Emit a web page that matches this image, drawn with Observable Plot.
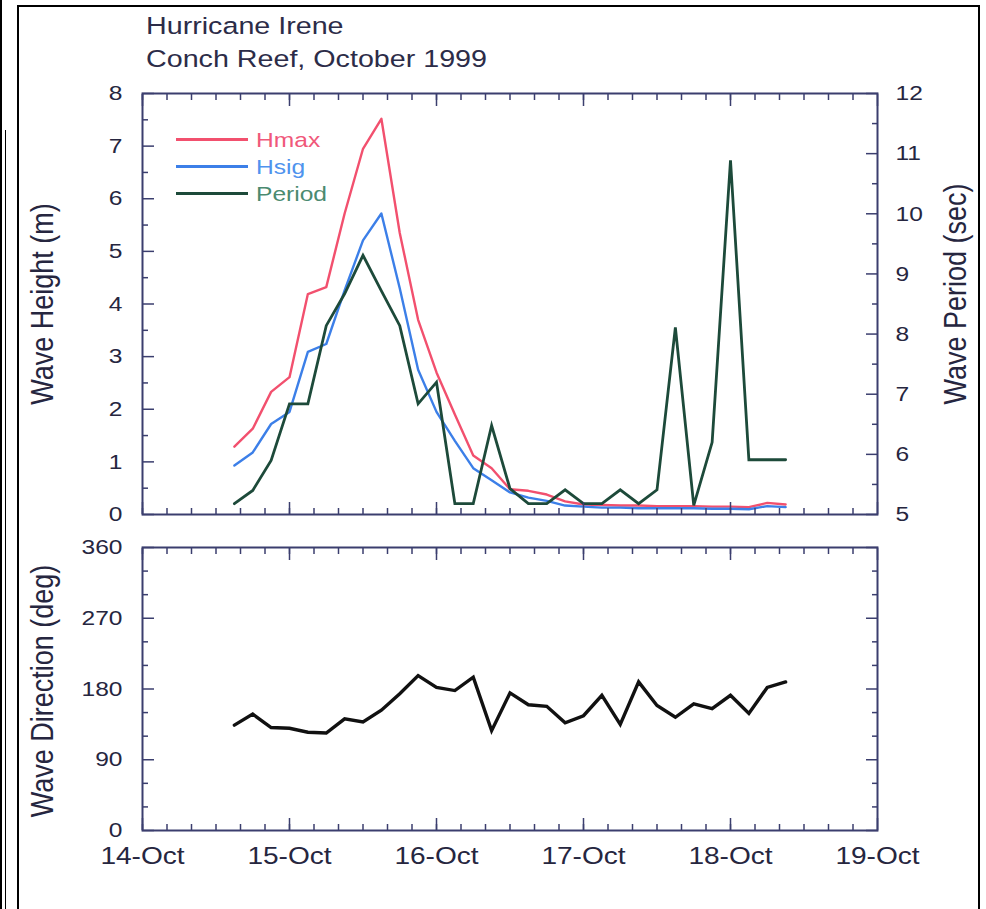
<!DOCTYPE html>
<html><head><meta charset="utf-8">
<script src="https://cdn.jsdelivr.net/npm/d3@7"></script>
<script src="https://cdn.jsdelivr.net/npm/@observablehq/plot@0.6"></script>
<style>
body{margin:0;background:#fff}
#page{position:relative;width:986px;height:909px;overflow:hidden;background:#fff;font-family:"Liberation Sans",Arial,sans-serif}
.abs{position:absolute}
.st{transform-origin:0 50%;transform:scaleX(1.17);white-space:nowrap;line-height:1}
.plot{position:absolute;left:0;overflow:visible}
</style></head>
<body><div id="page">
<div class="abs" style="left:0;top:0;width:2px;height:909px;background:#000"></div>
<div class="abs" style="left:4.5px;top:130px;width:1.5px;height:779px;background:#000"></div>
<div class="abs" style="left:16.5px;top:4.5px;width:959.5px;height:920px;border:2.5px solid #000;border-bottom:none"></div>
<div class="abs st" style="left:146px;top:14.3px;font-size:24.5px;color:#2c2c48">Hurricane Irene</div>
<div class="abs st" style="left:146px;top:47.3px;font-size:24.5px;color:#2c2c48">Conch Reef, October 1999</div>
<div id="topPanel" class="plot" style="top:80px"></div>
<div id="botPanel" class="plot" style="top:530px"></div>
<div id="legend"></div>
</div>
<script>
// ---- data (3-hourly, UTC) ----
const times = ["1999-10-14T15:00","1999-10-14T18:00","1999-10-14T21:00","1999-10-15T00:00","1999-10-15T03:00","1999-10-15T06:00","1999-10-15T09:00","1999-10-15T12:00","1999-10-15T15:00","1999-10-15T18:00","1999-10-15T21:00","1999-10-16T00:00","1999-10-16T03:00","1999-10-16T06:00","1999-10-16T09:00","1999-10-16T12:00","1999-10-16T15:00","1999-10-16T18:00","1999-10-16T21:00","1999-10-17T00:00","1999-10-17T03:00","1999-10-17T06:00","1999-10-17T09:00","1999-10-17T12:00","1999-10-17T15:00","1999-10-17T18:00","1999-10-17T21:00","1999-10-18T00:00","1999-10-18T03:00","1999-10-18T06:00","1999-10-18T09:00"];
const hmax = [1.29,1.63,2.33,2.61,4.19,4.32,5.72,6.95,7.52,5.35,3.70,2.70,1.90,1.12,0.88,0.48,0.45,0.38,0.25,0.19,0.18,0.17,0.17,0.16,0.16,0.16,0.15,0.15,0.14,0.22,0.19];
const hsig = [0.93,1.18,1.72,1.95,3.09,3.24,4.26,5.21,5.72,4.30,2.75,1.95,1.40,0.88,0.65,0.42,0.32,0.26,0.17,0.15,0.13,0.13,0.12,0.12,0.12,0.12,0.11,0.11,0.10,0.16,0.14];
const period = [5.18,5.40,5.90,6.84,6.84,8.14,8.67,9.31,8.72,8.14,6.84,7.20,5.18,5.18,6.48,5.43,5.18,5.18,5.41,5.18,5.18,5.41,5.18,5.41,8.11,5.15,6.20,10.89,5.91,5.91,5.91];
const direction = [134,148,131,130,125,124,142,138,153,174,197,182,178,195,127,175,160,158,137,146,172,135,189,159,144,161,155,172,149,182,189];

const heightTicks = [0,1,2,3,4,5,6,7,8];
const heightMinor = [0.5,1.5,2.5,3.5,4.5,5.5,6.5,7.5];
const periodTicks = [5,6,7,8,9,10,11,12];
const periodMinor = [5.5,6.5,7.5,8.5,9.5,10.5,11.5];
const dirTicks = [0,90,180,270,360];
const dirMinor = [30,60,120,150,210,240,300,330];
const dateTicks = ["1999-10-14","1999-10-15","1999-10-16","1999-10-17","1999-10-18","1999-10-19"];
const dateLabels = ["14-Oct","15-Oct","16-Oct","17-Oct","18-Oct","19-Oct"];
const legendItems = ["Hmax","Hsig","Period"];

// ---- styles ----
const C = {hmax:"#f2506e", hsig:"#3c7fe8", period:"#1d4a3a"};
const CT = {Hmax:"#f0587a", Hsig:"#4f93ee", Period:"#4b8a70"};
const AX = "#3b3e6e", TX = "#26263f";
const K = 1.17; // horizontal glyph stretch

const rows = times.map((s,i) => ({t:new Date(s+":00Z"), hmax:hmax[i], hsig:hsig[i], period:period[i], dir:direction[i]}));
const days = dateTicks.map(s => new Date(s+"T00:00:00Z"));
const xDomain = [days[0], days[days.length-1]];
const minor = d3.utcHour.every(4).range(xDomain[0], xDomain[1]);
const toH = p => (p - 5) * 8 / 7;
const fmtDay = d => dateLabels[days.findIndex(v => +v === +d)];
const none = () => "";

function xTicks() {
  return [
    Plot.axisX({anchor:"top", ticks:minor, tickSize:-6, tickFormat:none, color:AX, strokeWidth:1.5, label:null}),
    Plot.axisX({anchor:"top", ticks:days, tickSize:-12, tickFormat:none, color:AX, strokeWidth:1.5, label:null}),
    Plot.axisX({anchor:"bottom", ticks:minor, tickSize:-6, tickFormat:none, color:AX, strokeWidth:1.5, label:null}),
    Plot.axisX({anchor:"bottom", ticks:days, tickSize:-12, tickFormat:none, color:AX, strokeWidth:1.5, label:null})
  ];
}
function yTicks(major, minorV) {
  return [
    Plot.axisY({anchor:"left", ticks:minorV, tickSize:-6, tickFormat:none, color:AX, strokeWidth:1.5, label:null}),
    Plot.axisY({anchor:"left", ticks:major, tickSize:-12, tickFormat:none, color:AX, strokeWidth:1.5, label:null}),
    Plot.axisY({anchor:"right", ticks:minorV, tickSize:-6, tickFormat:none, color:AX, strokeWidth:1.5, label:null}),
    Plot.axisY({anchor:"right", ticks:major, tickSize:-12, tickFormat:none, color:AX, strokeWidth:1.5, label:null})
  ];
}
function stretch(svg) {
  svg.querySelectorAll("text").forEach(t => {
    let tr = t.getAttribute("transform") || "";
    if (t.hasAttribute("x")) { tr += ` translate(${+t.getAttribute("x")||0},0)`; t.removeAttribute("x"); }
    tr += /rotate/.test(tr) ? ` scale(1,${K})` : ` scale(${K},1)`;
    t.setAttribute("transform", tr);
  });
}
const font = {fontFamily:"Liberation Sans, Arial, sans-serif", background:"transparent", overflow:"visible"};

const topChart = Plot.plot({
  width:986, height:450, marginTop:13, marginBottom:16, marginLeft:142, marginRight:109,
  style:font,
  x:{type:"utc", domain:xDomain},
  y:{domain:[0,8]},
  marks:[
    Plot.line(rows, {x:"t", y:"hmax", stroke:C.hmax, strokeWidth:2.4}),
    Plot.line(rows, {x:"t", y:"hsig", stroke:C.hsig, strokeWidth:2.4}),
    Plot.line(rows, {x:"t", y:d => toH(d.period), stroke:C.period, strokeWidth:2.8, strokeLinejoin:"miter", strokeMiterlimit:4}),
    ...xTicks(),
    ...yTicks(heightTicks, heightMinor).slice(0,2),
    ...yTicks(periodTicks.map(toH), periodMinor.map(toH)).slice(2),
    Plot.frame({stroke:AX, strokeWidth:2}),
    Plot.axisY({anchor:"left", ticks:heightTicks, tickSize:0, tickPadding:20, tickFormat:d => String(d), fontSize:21, color:TX, label:null}),
    Plot.axisY({anchor:"right", ticks:periodTicks.map(toH), tickSize:0, tickPadding:18, tickFormat:d => String(Math.round(d*7/8+5)), fontSize:21, color:TX, label:null}),
    Plot.text(["Wave Height (m)"], {frameAnchor:"left", textAnchor:"middle", dx:-100, rotate:-90, fontSize:27, fill:TX}),
    Plot.text(["Wave Period (sec)"], {frameAnchor:"right", textAnchor:"middle", dx:78, dy:-10, rotate:-90, fontSize:27, fill:TX})
  ]
});
stretch(topChart);
document.getElementById("topPanel").appendChild(topChart);

const botChart = Plot.plot({
  width:986, height:379, marginTop:17, marginBottom:79, marginLeft:142, marginRight:109,
  style:font,
  x:{type:"utc", domain:xDomain},
  y:{domain:[0,360]},
  marks:[
    Plot.line(rows, {x:"t", y:"dir", stroke:"#111", strokeWidth:3.4, strokeLinejoin:"miter", strokeMiterlimit:4}),
    ...xTicks(),
    ...yTicks(dirTicks, dirMinor),
    Plot.frame({stroke:AX, strokeWidth:2}),
    Plot.axisY({anchor:"left", ticks:dirTicks, tickSize:0, tickPadding:20, tickFormat:d => String(d), fontSize:21, color:TX, label:null}),
    Plot.axisX({anchor:"bottom", ticks:days, tickSize:0, tickPadding:16, tickFormat:fmtDay, fontSize:24, color:TX, label:null}),
    Plot.text(["Wave Direction (deg)"], {frameAnchor:"left", textAnchor:"middle", dx:-100, dy:2, rotate:-90, fontSize:27, fill:TX})
  ]
});
stretch(botChart);
document.getElementById("botPanel").appendChild(botChart);

// ---- legend (HTML overlay inside the top panel) ----
const lg = document.getElementById("legend");
const legY = [139.5, 166.5, 193.5];
const legColor = [C.hmax, C.hsig, C.period];
legendItems.forEach((name, i) => {
  const ln = document.createElement("div");
  ln.className = "abs";
  ln.style.cssText = `left:176px;top:${legY[i]-1.4}px;width:72px;height:2.8px;background:${legColor[i]}`;
  lg.appendChild(ln);
  const tx = document.createElement("div");
  tx.className = "abs st";
  tx.style.cssText += `left:256px;top:${legY[i]-10.3}px;font-size:21px;color:${CT[name]}`;
  tx.textContent = name;
  lg.appendChild(tx);
});
</script>
</body></html>
